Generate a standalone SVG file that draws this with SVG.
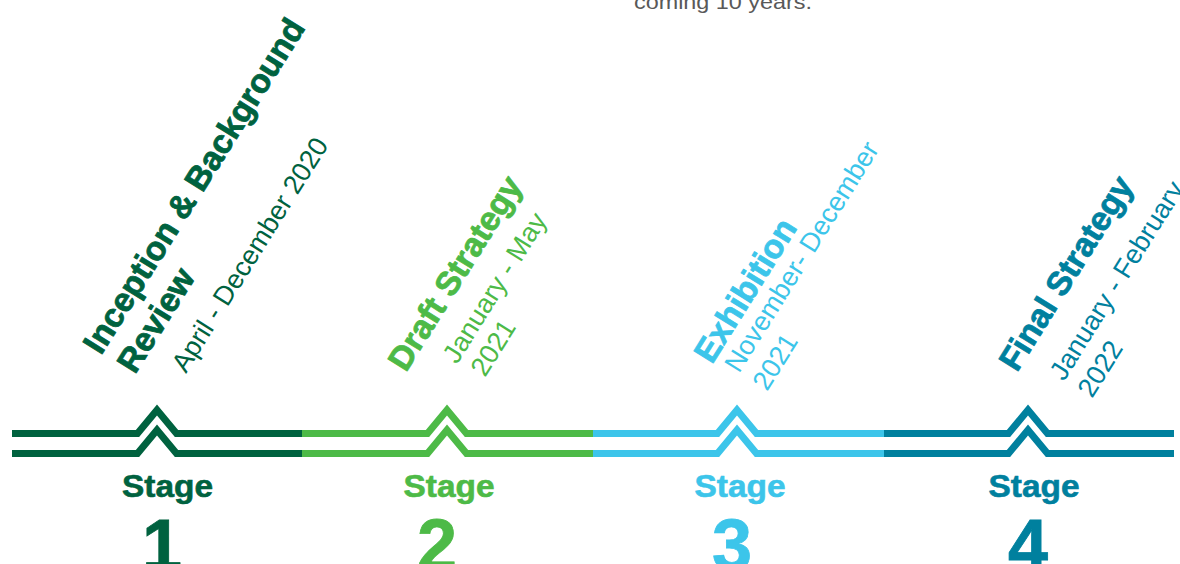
<svg xmlns="http://www.w3.org/2000/svg" width="1180" height="564" viewBox="0 0 1180 564">
  <style>
    .rail { fill: none; stroke-width: 7; stroke-linejoin: miter; stroke-miterlimit: 10; stroke-linecap: butt; }
    .title { font-family: "Liberation Sans", Arial, sans-serif; font-weight: bold; font-size: 33.5px; stroke-width: 0.8; stroke-linejoin: round; }
    .date { font-family: "Liberation Sans", Arial, sans-serif; font-weight: normal; font-size: 27px; }
    .stage { font-family: "Liberation Sans", Arial, sans-serif; font-weight: bold; font-size: 32px; text-anchor: middle; stroke-width: 0.6; }
    .num { font-family: "Liberation Sans", Arial, sans-serif; font-weight: bold; font-size: 72px; text-anchor: middle; stroke-width: 0.8; }
    .intro { font-family: "Liberation Sans", Arial, sans-serif; font-size: 20px; fill: #595959; }
    .s1 { fill: #00623f; stroke: #00623f; } .s1r { stroke: #00623f; }
    .s2 { fill: #4dba47; stroke: #4dba47; } .s2r { stroke: #4dba47; }
    .s3 { fill: #3cc5ea; stroke: #3cc5ea; } .s3r { stroke: #3cc5ea; }
    .s4 { fill: #00809e; stroke: #00809e; } .s4r { stroke: #00809e; }
    .date.s1, .date.s2, .date.s3, .date.s4 { stroke: none; }
  </style>

  <!-- tail of the introduction paragraph -->
  <text class="intro" x="634" y="9" textLength="178" lengthAdjust="spacingAndGlyphs">coming 10 years.</text>

  <!-- timeline rails: two parallel lines with a chevron at each stage -->
  <g id="connectors">
    <path class="rail s1r" d="M12 433.5 H137.5 L157 410 L176.5 433.5 H302"/>
    <path class="rail s1r" d="M12 453.5 H137.5 L157 430 L176.5 453.5 H302"/>
    <path class="rail s2r" d="M302 433.5 H427.5 L447 410 L466.5 433.5 H593"/>
    <path class="rail s2r" d="M302 453.5 H427.5 L447 430 L466.5 453.5 H593"/>
    <path class="rail s3r" d="M593 433.5 H717.5 L737 410 L756.5 433.5 H884"/>
    <path class="rail s3r" d="M593 453.5 H717.5 L737 430 L756.5 453.5 H884"/>
    <path class="rail s4r" d="M884 433.5 H1008.5 L1028 410 L1047.5 433.5 H1174"/>
    <path class="rail s4r" d="M884 453.5 H1008.5 L1028 430 L1047.5 453.5 H1174"/>
  </g>

  <g id="stage1">
    <text class="title s1" transform="translate(101 356) rotate(-58)">Inception &amp; Background</text>
    <text class="title s1" transform="translate(135 375) rotate(-58)">Review</text>
    <text class="date s1" transform="translate(186 374) rotate(-58)">April - December 2020</text>
    <text class="stage s1" x="167.5" y="497" textLength="91" lengthAdjust="spacingAndGlyphs">Stage</text>
    <text class="num s1" x="162" y="569.5">1</text>
  </g>

  <g id="stage2">
    <text class="title s2" transform="translate(406 373) rotate(-58)">Draft Strategy</text>
    <text class="date s2" transform="translate(457 365) rotate(-58)">January - May</text>
    <text class="date s2" transform="translate(485 378) rotate(-58)">2021</text>
    <text class="stage s2" x="449" y="497" textLength="91" lengthAdjust="spacingAndGlyphs">Stage</text>
    <text class="num s2" x="437" y="569.5">2</text>
  </g>

  <g id="stage3">
    <text class="title s3" transform="translate(712 365) rotate(-58)">Exhibition</text>
    <text class="date s3" transform="translate(739 374) rotate(-58)">November- December</text>
    <text class="date s3" transform="translate(767 392) rotate(-58)">2021</text>
    <text class="stage s3" x="740" y="497" textLength="91" lengthAdjust="spacingAndGlyphs">Stage</text>
    <text class="num s3" x="732" y="569.5">3</text>
  </g>

  <g id="stage4">
    <text class="title s4" transform="translate(1017 373) rotate(-58)">Final Strategy</text>
    <text class="date s4" transform="translate(1064 382) rotate(-58)">January - February</text>
    <text class="date s4" transform="translate(1092 399) rotate(-58)">2022</text>
    <text class="stage s4" x="1034" y="497" textLength="91" lengthAdjust="spacingAndGlyphs">Stage</text>
    <text class="num s4" x="1028" y="569.5">4</text>
  </g>
</svg>
